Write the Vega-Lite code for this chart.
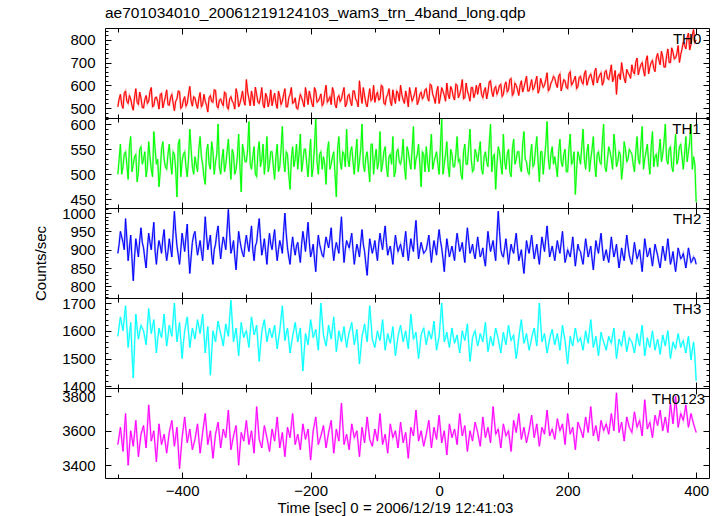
{
"$schema": "https://vega.github.io/schema/vega-lite/v6.json",
"padding": {"left": 33, "top": 5, "right": 5, "bottom": 5},
"background": "white",
"title": {"text": "ae701034010_20061219124103_wam3_trn_4band_long.qdp", "anchor": "start", "frame": "group", "font": "Liberation Sans", "fontSize": 15.5, "fontWeight": "normal", "color": "black", "offset": 5},
"spacing": 0,
"bounds": "flush",
"config": {
  "view": {"stroke": "black", "strokeWidth": 1},
  "axis": {"labelFont": "Liberation Sans", "labelFontSize": 15, "labelColor": "black", "titleFont": "Liberation Sans", "titleFontSize": 15, "titleFontWeight": "normal", "titleColor": "black", "domain": false, "grid": false, "tickColor": "black", "tickWidth": 1, "labelFlush": false, "labelOverlap": false, "format": "d"}
},
"data": {"values": [
{"t":-500,"th0":505,"th1":500,"th2":890,"th3":1580,"th0123":3520},
{"t":-498,"th0":540,"th1":530,"th2":915,"th3":1615,"th0123":3570},
{"t":-496,"th0":560,"th1":560,"th2":950,"th3":1650,"th0123":3620},
{"t":-494,"th0":515,"th1":500,"th2":935,"th3":1625,"th0123":3550},
{"t":-492,"th0":498,"th1":515,"th2":920,"th3":1600,"th0123":3480},
{"t":-490,"th0":565,"th1":540,"th2":900,"th3":1645,"th0123":3590},
{"t":-488,"th0":575,"th1":545,"th2":985,"th3":1690,"th0123":3700},
{"t":-486,"th0":530,"th1":520,"th2":930,"th3":1615,"th0123":3550},
{"t":-484,"th0":520,"th1":490,"th2":870,"th3":1540,"th0123":3400},
{"t":-482,"th0":555,"th1":555,"th2":905,"th3":1585,"th0123":3500},
{"t":-480,"th0":540,"th1":575,"th2":940,"th3":1630,"th0123":3600},
{"t":-478,"th0":510,"th1":505,"th2":875,"th3":1520,"th0123":3555},
{"t":-476,"th0":490,"th1":520,"th2":815,"th3":1430,"th0123":3510},
{"t":-474,"th0":548,"th1":535,"th2":880,"th3":1550,"th0123":3585},
{"t":-472,"th0":585,"th1":540,"th2":930,"th3":1660,"th0123":3660},
{"t":-470,"th0":525,"th1":485,"th2":905,"th3":1610,"th0123":3555},
{"t":-468,"th0":515,"th1":505,"th2":880,"th3":1570,"th0123":3450},
{"t":-466,"th0":570,"th1":550,"th2":925,"th3":1595,"th0123":3515},
{"t":-464,"th0":545,"th1":555,"th2":960,"th3":1620,"th0123":3580},
{"t":-462,"th0":502,"th1":520,"th2":920,"th3":1610,"th0123":3605},
{"t":-460,"th0":500,"th1":530,"th2":905,"th3":1600,"th0123":3630},
{"t":-458,"th0":538,"th1":545,"th2":875,"th3":1575,"th0123":3565},
{"t":-456,"th0":555,"th1":495,"th2":850,"th3":1550,"th0123":3500},
{"t":-454,"th0":520,"th1":515,"th2":905,"th3":1615,"th0123":3625},
{"t":-452,"th0":530,"th1":565,"th2":945,"th3":1680,"th0123":3750},
{"t":-450,"th0":572,"th1":535,"th2":920,"th3":1635,"th0123":3645},
{"t":-448,"th0":590,"th1":510,"th2":900,"th3":1590,"th0123":3540},
{"t":-446,"th0":505,"th1":495,"th2":940,"th3":1615,"th0123":3570},
{"t":-444,"th0":510,"th1":585,"th2":975,"th3":1640,"th0123":3600},
{"t":-442,"th0":545,"th1":550,"th2":895,"th3":1580,"th0123":3510},
{"t":-440,"th0":548,"th1":520,"th2":860,"th3":1520,"th0123":3420},
{"t":-438,"th0":528,"th1":530,"th2":900,"th3":1570,"th0123":3530},
{"t":-436,"th0":495,"th1":475,"th2":925,"th3":1610,"th0123":3640},
{"t":-434,"th0":560,"th1":505,"th2":910,"th3":1590,"th0123":3580},
{"t":-432,"th0":565,"th1":550,"th2":890,"th3":1575,"th0123":3520},
{"t":-430,"th0":500,"th1":565,"th2":930,"th3":1615,"th0123":3550},
{"t":-428,"th0":525,"th1":530,"th2":955,"th3":1660,"th0123":3580},
{"t":-426,"th0":550,"th1":515,"th2":900,"th3":1600,"th0123":3525},
{"t":-424,"th0":580,"th1":510,"th2":870,"th3":1545,"th0123":3470},
{"t":-422,"th0":515,"th1":540,"th2":895,"th3":1580,"th0123":3530},
{"t":-420,"th0":512,"th1":560,"th2":930,"th3":1620,"th0123":3590},
{"t":-418,"th0":545,"th1":525,"th2":905,"th3":1600,"th0123":3625},
{"t":-416,"th0":560,"th1":500,"th2":880,"th3":1580,"th0123":3660},
{"t":-414,"th0":522,"th1":545,"th2":945,"th3":1640,"th0123":3585},
{"t":-412,"th0":488,"th1":540,"th2":1005,"th3":1700,"th0123":3510},
{"t":-410,"th0":530,"th1":510,"th2":950,"th3":1625,"th0123":3565},
{"t":-408,"th0":540,"th1":455,"th2":910,"th3":1560,"th0123":3620},
{"t":-406,"th0":575,"th1":560,"th2":885,"th3":1595,"th0123":3500},
{"t":-404,"th0":572,"th1":570,"th2":860,"th3":1630,"th0123":3380},
{"t":-402,"th0":498,"th1":495,"th2":900,"th3":1565,"th0123":3470},
{"t":-400,"th0":505,"th1":525,"th2":945,"th3":1500,"th0123":3560},
{"t":-398,"th0":535,"th1":540,"th2":920,"th3":1555,"th0123":3620},
{"t":-396,"th0":550,"th1":545,"th2":895,"th3":1600,"th0123":3680},
{"t":-394,"th0":508,"th1":515,"th2":935,"th3":1625,"th0123":3605},
{"t":-392,"th0":520,"th1":495,"th2":970,"th3":1650,"th0123":3530},
{"t":-390,"th0":562,"th1":530,"th2":890,"th3":1595,"th0123":3570},
{"t":-388,"th0":595,"th1":590,"th2":835,"th3":1540,"th0123":3610},
{"t":-386,"th0":530,"th1":550,"th2":880,"th3":1575,"th0123":3550},
{"t":-384,"th0":508,"th1":515,"th2":920,"th3":1610,"th0123":3490},
{"t":-382,"th0":550,"th1":500,"th2":940,"th3":1590,"th0123":3520},
{"t":-380,"th0":545,"th1":535,"th2":950,"th3":1570,"th0123":3550},
{"t":-378,"th0":518,"th1":520,"th2":915,"th3":1605,"th0123":3595},
{"t":-376,"th0":498,"th1":505,"th2":885,"th3":1640,"th0123":3640},
{"t":-374,"th0":540,"th1":550,"th2":905,"th3":1615,"th0123":3555},
{"t":-372,"th0":568,"th1":575,"th2":925,"th3":1590,"th0123":3470},
{"t":-370,"th0":505,"th1":535,"th2":895,"th3":1625,"th0123":3530},
{"t":-368,"th0":515,"th1":520,"th2":870,"th3":1660,"th0123":3590},
{"t":-366,"th0":560,"th1":495,"th2":925,"th3":1590,"th0123":3645},
{"t":-364,"th0":530,"th1":480,"th2":990,"th3":1520,"th0123":3700},
{"t":-362,"th0":512,"th1":545,"th2":940,"th3":1570,"th0123":3610},
{"t":-360,"th0":482,"th1":560,"th2":900,"th3":1615,"th0123":3520},
{"t":-358,"th0":545,"th1":520,"th2":920,"th3":1530,"th0123":3560},
{"t":-356,"th0":555,"th1":510,"th2":940,"th3":1440,"th0123":3600},
{"t":-354,"th0":528,"th1":565,"th2":885,"th3":1520,"th0123":3520},
{"t":-352,"th0":525,"th1":545,"th2":860,"th3":1600,"th0123":3440},
{"t":-350,"th0":580,"th1":500,"th2":900,"th3":1580,"th0123":3510},
{"t":-348,"th0":578,"th1":525,"th2":915,"th3":1560,"th0123":3580},
{"t":-346,"th0":510,"th1":540,"th2":945,"th3":1600,"th0123":3615},
{"t":-344,"th0":500,"th1":600,"th2":965,"th3":1635,"th0123":3650},
{"t":-342,"th0":535,"th1":515,"th2":910,"th3":1610,"th0123":3575},
{"t":-340,"th0":540,"th1":500,"th2":875,"th3":1590,"th0123":3500},
{"t":-338,"th0":522,"th1":530,"th2":910,"th3":1570,"th0123":3555},
{"t":-336,"th0":510,"th1":550,"th2":935,"th3":1545,"th0123":3610},
{"t":-334,"th0":570,"th1":505,"th2":920,"th3":1585,"th0123":3585},
{"t":-332,"th0":565,"th1":520,"th2":900,"th3":1625,"th0123":3560},
{"t":-330,"th0":505,"th1":545,"th2":955,"th3":1600,"th0123":3640},
{"t":-328,"th0":495,"th1":570,"th2":1010,"th3":1580,"th0123":3720},
{"t":-326,"th0":540,"th1":525,"th2":945,"th3":1645,"th0123":3605},
{"t":-324,"th0":550,"th1":490,"th2":890,"th3":1710,"th0123":3490},
{"t":-322,"th0":530,"th1":550,"th2":905,"th3":1635,"th0123":3530},
{"t":-320,"th0":520,"th1":540,"th2":925,"th3":1560,"th0123":3570},
{"t":-318,"th0":495,"th1":500,"th2":880,"th3":1585,"th0123":3600},
{"t":-316,"th0":585,"th1":510,"th2":845,"th3":1610,"th0123":3630},
{"t":-314,"th0":560,"th1":535,"th2":900,"th3":1560,"th0123":3515},
{"t":-312,"th0":505,"th1":580,"th2":950,"th3":1510,"th0123":3400},
{"t":-310,"th0":520,"th1":515,"th2":925,"th3":1570,"th0123":3495},
{"t":-308,"th0":545,"th1":465,"th2":905,"th3":1630,"th0123":3590},
{"t":-306,"th0":575,"th1":560,"th2":890,"th3":1600,"th0123":3565},
{"t":-304,"th0":530,"th1":545,"th2":880,"th3":1575,"th0123":3540},
{"t":-302,"th0":512,"th1":525,"th2":915,"th3":1590,"th0123":3600},
{"t":-300,"th0":625,"th1":525,"th2":940,"th3":1600,"th0123":3660},
{"t":-298,"th0":570,"th1":550,"th2":915,"th3":1570,"th0123":3590},
{"t":-296,"th0":540,"th1":605,"th2":895,"th3":1540,"th0123":3520},
{"t":-294,"th0":510,"th1":520,"th2":930,"th3":1595,"th0123":3560},
{"t":-292,"th0":575,"th1":510,"th2":965,"th3":1650,"th0123":3600},
{"t":-290,"th0":545,"th1":535,"th2":900,"th3":1620,"th0123":3535},
{"t":-288,"th0":510,"th1":555,"th2":870,"th3":1585,"th0123":3470},
{"t":-286,"th0":592,"th1":500,"th2":910,"th3":1600,"th0123":3605},
{"t":-284,"th0":560,"th1":495,"th2":920,"th3":1620,"th0123":3740},
{"t":-282,"th0":525,"th1":545,"th2":955,"th3":1555,"th0123":3645},
{"t":-280,"th0":520,"th1":565,"th2":985,"th3":1490,"th0123":3550},
{"t":-278,"th0":548,"th1":515,"th2":930,"th3":1545,"th0123":3525},
{"t":-276,"th0":590,"th1":530,"th2":885,"th3":1595,"th0123":3500},
{"t":-274,"th0":515,"th1":560,"th2":905,"th3":1620,"th0123":3565},
{"t":-272,"th0":500,"th1":500,"th2":930,"th3":1640,"th0123":3630},
{"t":-270,"th0":565,"th1":530,"th2":895,"th3":1600,"th0123":3595},
{"t":-268,"th0":548,"th1":575,"th2":860,"th3":1560,"th0123":3560},
{"t":-266,"th0":505,"th1":505,"th2":910,"th3":1585,"th0123":3520},
{"t":-264,"th0":530,"th1":520,"th2":945,"th3":1610,"th0123":3480},
{"t":-262,"th0":580,"th1":545,"th2":915,"th3":1590,"th0123":3545},
{"t":-260,"th0":510,"th1":545,"th2":900,"th3":1575,"th0123":3610},
{"t":-258,"th0":540,"th1":515,"th2":930,"th3":1600,"th0123":3575},
{"t":-256,"th0":565,"th1":490,"th2":955,"th3":1620,"th0123":3540},
{"t":-254,"th0":520,"th1":535,"th2":905,"th3":1575,"th0123":3610},
{"t":-252,"th0":498,"th1":560,"th2":870,"th3":1535,"th0123":3680},
{"t":-250,"th0":575,"th1":505,"th2":900,"th3":1570,"th0123":3590},
{"t":-248,"th0":550,"th1":515,"th2":925,"th3":1600,"th0123":3500},
{"t":-246,"th0":515,"th1":550,"th2":910,"th3":1645,"th0123":3545},
{"t":-244,"th0":530,"th1":595,"th2":890,"th3":1690,"th0123":3590},
{"t":-242,"th0":560,"th1":525,"th2":950,"th3":1625,"th0123":3520},
{"t":-240,"th0":585,"th1":505,"th2":1000,"th3":1565,"th0123":3450},
{"t":-238,"th0":505,"th1":545,"th2":945,"th3":1590,"th0123":3535},
{"t":-236,"th0":505,"th1":540,"th2":905,"th3":1610,"th0123":3620},
{"t":-234,"th0":545,"th1":500,"th2":880,"th3":1565,"th0123":3590},
{"t":-232,"th0":560,"th1":470,"th2":860,"th3":1520,"th0123":3560},
{"t":-230,"th0":590,"th1":530,"th2":905,"th3":1550,"th0123":3630},
{"t":-228,"th0":520,"th1":555,"th2":935,"th3":1580,"th0123":3700},
{"t":-226,"th0":525,"th1":515,"th2":905,"th3":1605,"th0123":3610},
{"t":-224,"th0":545,"th1":530,"th2":885,"th3":1630,"th0123":3520},
{"t":-222,"th0":500,"th1":560,"th2":910,"th3":1595,"th0123":3550},
{"t":-220,"th0":495,"th1":510,"th2":920,"th3":1560,"th0123":3580},
{"t":-218,"th0":530,"th1":540,"th2":890,"th3":1585,"th0123":3535},
{"t":-216,"th0":560,"th1":580,"th2":865,"th3":1610,"th0123":3490},
{"t":-214,"th0":545,"th1":505,"th2":915,"th3":1530,"th0123":3565},
{"t":-212,"th0":525,"th1":525,"th2":950,"th3":1455,"th0123":3640},
{"t":-210,"th0":505,"th1":550,"th2":925,"th3":1525,"th0123":3595},
{"t":-208,"th0":590,"th1":550,"th2":895,"th3":1590,"th0123":3550},
{"t":-206,"th0":555,"th1":520,"th2":935,"th3":1570,"th0123":3580},
{"t":-204,"th0":515,"th1":495,"th2":975,"th3":1550,"th0123":3610},
{"t":-202,"th0":575,"th1":535,"th2":920,"th3":1595,"th0123":3520},
{"t":-200,"th0":548,"th1":570,"th2":880,"th3":1640,"th0123":3430},
{"t":-198,"th0":520,"th1":495,"th2":895,"th3":1610,"th0123":3515},
{"t":-196,"th0":505,"th1":515,"th2":915,"th3":1575,"th0123":3600},
{"t":-194,"th0":590,"th1":555,"th2":875,"th3":1590,"th0123":3640},
{"t":-192,"th0":575,"th1":610,"th2":840,"th3":1605,"th0123":3680},
{"t":-190,"th0":525,"th1":525,"th2":900,"th3":1565,"th0123":3600},
{"t":-188,"th0":530,"th1":500,"th2":940,"th3":1530,"th0123":3520},
{"t":-186,"th0":545,"th1":540,"th2":915,"th3":1615,"th0123":3545},
{"t":-184,"th0":562,"th1":545,"th2":900,"th3":1700,"th0123":3570},
{"t":-182,"th0":510,"th1":510,"th2":885,"th3":1640,"th0123":3600},
{"t":-180,"th0":520,"th1":535,"th2":880,"th3":1585,"th0123":3630},
{"t":-178,"th0":565,"th1":520,"th2":910,"th3":1565,"th0123":3565},
{"t":-176,"th0":600,"th1":480,"th2":935,"th3":1545,"th0123":3500},
{"t":-174,"th0":525,"th1":545,"th2":920,"th3":1580,"th0123":3545},
{"t":-172,"th0":535,"th1":565,"th2":905,"th3":1620,"th0123":3590},
{"t":-170,"th0":550,"th1":510,"th2":930,"th3":1595,"th0123":3625},
{"t":-168,"th0":515,"th1":520,"th2":960,"th3":1570,"th0123":3660},
{"t":-166,"th0":590,"th1":535,"th2":905,"th3":1610,"th0123":3565},
{"t":-164,"th0":570,"th1":545,"th2":870,"th3":1650,"th0123":3470},
{"t":-162,"th0":515,"th1":500,"th2":900,"th3":1590,"th0123":3540},
{"t":-160,"th0":500,"th1":455,"th2":920,"th3":1525,"th0123":3610},
{"t":-158,"th0":545,"th1":550,"th2":905,"th3":1560,"th0123":3575},
{"t":-156,"th0":555,"th1":575,"th2":890,"th3":1600,"th0123":3540},
{"t":-154,"th0":528,"th1":525,"th2":945,"th3":1580,"th0123":3650},
{"t":-152,"th0":540,"th1":510,"th2":990,"th3":1560,"th0123":3760},
{"t":-150,"th0":568,"th1":545,"th2":920,"th3":1590,"th0123":3640},
{"t":-148,"th0":590,"th1":540,"th2":865,"th3":1615,"th0123":3520},
{"t":-146,"th0":505,"th1":515,"th2":900,"th3":1575,"th0123":3550},
{"t":-144,"th0":518,"th1":590,"th2":925,"th3":1540,"th0123":3580},
{"t":-142,"th0":555,"th1":530,"th2":915,"th3":1570,"th0123":3535},
{"t":-140,"th0":560,"th1":515,"th2":905,"th3":1595,"th0123":3490},
{"t":-138,"th0":528,"th1":545,"th2":925,"th3":1610,"th0123":3565},
{"t":-136,"th0":510,"th1":555,"th2":945,"th3":1630,"th0123":3640},
{"t":-134,"th0":575,"th1":525,"th2":900,"th3":1590,"th0123":3600},
{"t":-132,"th0":575,"th1":500,"th2":860,"th3":1550,"th0123":3560},
{"t":-130,"th0":540,"th1":540,"th2":890,"th3":1575,"th0123":3580},
{"t":-128,"th0":530,"th1":570,"th2":915,"th3":1605,"th0123":3600},
{"t":-126,"th0":505,"th1":505,"th2":900,"th3":1545,"th0123":3525},
{"t":-124,"th0":620,"th1":525,"th2":880,"th3":1480,"th0123":3450},
{"t":-122,"th0":560,"th1":550,"th2":920,"th3":1530,"th0123":3535},
{"t":-120,"th0":520,"th1":600,"th2":955,"th3":1580,"th0123":3620},
{"t":-118,"th0":590,"th1":520,"th2":915,"th3":1600,"th0123":3575},
{"t":-116,"th0":555,"th1":505,"th2":895,"th3":1625,"th0123":3530},
{"t":-114,"th0":520,"th1":535,"th2":860,"th3":1590,"th0123":3605},
{"t":-112,"th0":505,"th1":545,"th2":830,"th3":1560,"th0123":3680},
{"t":-110,"th0":548,"th1":515,"th2":885,"th3":1625,"th0123":3615},
{"t":-108,"th0":585,"th1":485,"th2":930,"th3":1690,"th0123":3550},
{"t":-106,"th0":532,"th1":560,"th2":910,"th3":1630,"th0123":3530},
{"t":-104,"th0":540,"th1":560,"th2":890,"th3":1570,"th0123":3510},
{"t":-102,"th0":600,"th1":500,"th2":905,"th3":1555,"th0123":3560},
{"t":-100,"th0":525,"th1":530,"th2":925,"th3":1540,"th0123":3610},
{"t":-98,"th0":555,"th1":550,"th2":895,"th3":1570,"th0123":3575},
{"t":-96,"th0":570,"th1":510,"th2":870,"th3":1600,"th0123":3540},
{"t":-94,"th0":535,"th1":525,"th2":915,"th3":1580,"th0123":3620},
{"t":-92,"th0":540,"th1":585,"th2":945,"th3":1565,"th0123":3700},
{"t":-90,"th0":600,"th1":505,"th2":920,"th3":1600,"th0123":3610},
{"t":-88,"th0":595,"th1":520,"th2":900,"th3":1640,"th0123":3520},
{"t":-86,"th0":522,"th1":545,"th2":935,"th3":1585,"th0123":3550},
{"t":-84,"th0":515,"th1":555,"th2":965,"th3":1530,"th0123":3580},
{"t":-82,"th0":548,"th1":515,"th2":920,"th3":1560,"th0123":3525},
{"t":-80,"th0":560,"th1":495,"th2":885,"th3":1590,"th0123":3470},
{"t":-78,"th0":585,"th1":535,"th2":900,"th3":1570,"th0123":3555},
{"t":-76,"th0":530,"th1":540,"th2":910,"th3":1555,"th0123":3640},
{"t":-74,"th0":510,"th1":520,"th2":885,"th3":1585,"th0123":3600},
{"t":-72,"th0":580,"th1":575,"th2":860,"th3":1615,"th0123":3560},
{"t":-70,"th0":545,"th1":495,"th2":905,"th3":1560,"th0123":3580},
{"t":-68,"th0":520,"th1":505,"th2":940,"th3":1510,"th0123":3600},
{"t":-66,"th0":575,"th1":545,"th2":915,"th3":1545,"th0123":3550},
{"t":-64,"th0":565,"th1":550,"th2":895,"th3":1580,"th0123":3500},
{"t":-62,"th0":530,"th1":525,"th2":905,"th3":1600,"th0123":3575},
{"t":-60,"th0":600,"th1":520,"th2":915,"th3":1620,"th0123":3650},
{"t":-58,"th0":560,"th1":535,"th2":895,"th3":1590,"th0123":3590},
{"t":-56,"th0":535,"th1":570,"th2":880,"th3":1560,"th0123":3530},
{"t":-54,"th0":520,"th1":515,"th2":920,"th3":1580,"th0123":3560},
{"t":-52,"th0":575,"th1":490,"th2":950,"th3":1600,"th0123":3590},
{"t":-50,"th0":545,"th1":555,"th2":905,"th3":1565,"th0123":3515},
{"t":-48,"th0":505,"th1":545,"th2":870,"th3":1535,"th0123":3440},
{"t":-46,"th0":590,"th1":525,"th2":900,"th3":1600,"th0123":3530},
{"t":-44,"th0":560,"th1":510,"th2":930,"th3":1660,"th0123":3620},
{"t":-42,"th0":530,"th1":550,"th2":910,"th3":1615,"th0123":3595},
{"t":-40,"th0":545,"th1":595,"th2":895,"th3":1570,"th0123":3570},
{"t":-38,"th0":565,"th1":510,"th2":945,"th3":1580,"th0123":3645},
{"t":-36,"th0":590,"th1":530,"th2":980,"th3":1595,"th0123":3720},
{"t":-34,"th0":515,"th1":540,"th2":920,"th3":1545,"th0123":3630},
{"t":-32,"th0":530,"th1":560,"th2":875,"th3":1500,"th0123":3540},
{"t":-30,"th0":560,"th1":520,"th2":900,"th3":1540,"th0123":3570},
{"t":-28,"th0":570,"th1":475,"th2":920,"th3":1585,"th0123":3600},
{"t":-26,"th0":540,"th1":545,"th2":905,"th3":1600,"th0123":3555},
{"t":-24,"th0":550,"th1":540,"th2":890,"th3":1610,"th0123":3510},
{"t":-22,"th0":580,"th1":505,"th2":895,"th3":1580,"th0123":3545},
{"t":-20,"th0":585,"th1":555,"th2":900,"th3":1550,"th0123":3580},
{"t":-18,"th0":545,"th1":525,"th2":920,"th3":1575,"th0123":3620},
{"t":-16,"th0":530,"th1":505,"th2":940,"th3":1600,"th0123":3660},
{"t":-14,"th0":605,"th1":545,"th2":900,"th3":1585,"th0123":3580},
{"t":-12,"th0":600,"th1":580,"th2":865,"th3":1570,"th0123":3500},
{"t":-10,"th0":560,"th1":510,"th2":900,"th3":1600,"th0123":3560},
{"t":-8,"th0":545,"th1":525,"th2":925,"th3":1635,"th0123":3620},
{"t":-6,"th0":520,"th1":535,"th2":905,"th3":1580,"th0123":3585},
{"t":-4,"th0":570,"th1":545,"th2":885,"th3":1530,"th0123":3550},
{"t":-2,"th0":595,"th1":520,"th2":925,"th3":1555,"th0123":3620},
{"t":0,"th0":520,"th1":500,"th2":955,"th3":1580,"th0123":3690},
{"t":2,"th0":548,"th1":555,"th2":925,"th3":1640,"th0123":3610},
{"t":4,"th0":590,"th1":610,"th2":905,"th3":1700,"th0123":3530},
{"t":6,"th0":575,"th1":500,"th2":875,"th3":1630,"th0123":3565},
{"t":8,"th0":555,"th1":520,"th2":840,"th3":1560,"th0123":3600},
{"t":10,"th0":530,"th1":540,"th2":890,"th3":1575,"th0123":3530},
{"t":12,"th0":610,"th1":565,"th2":930,"th3":1595,"th0123":3460},
{"t":14,"th0":560,"th1":515,"th2":905,"th3":1565,"th0123":3550},
{"t":16,"th0":540,"th1":495,"th2":880,"th3":1540,"th0123":3640},
{"t":18,"th0":595,"th1":550,"th2":895,"th3":1575,"th0123":3600},
{"t":20,"th0":580,"th1":540,"th2":910,"th3":1610,"th0123":3560},
{"t":22,"th0":550,"th1":515,"th2":890,"th3":1580,"th0123":3585},
{"t":24,"th0":535,"th1":515,"th2":870,"th3":1555,"th0123":3610},
{"t":26,"th0":605,"th1":540,"th2":915,"th3":1570,"th0123":3565},
{"t":28,"th0":600,"th1":575,"th2":945,"th3":1585,"th0123":3520},
{"t":30,"th0":545,"th1":525,"th2":920,"th3":1550,"th0123":3610},
{"t":32,"th0":560,"th1":530,"th2":895,"th3":1520,"th0123":3700},
{"t":34,"th0":585,"th1":500,"th2":905,"th3":1560,"th0123":3635},
{"t":36,"th0":625,"th1":490,"th2":920,"th3":1600,"th0123":3570},
{"t":38,"th0":540,"th1":545,"th2":890,"th3":1580,"th0123":3600},
{"t":40,"th0":545,"th1":560,"th2":865,"th3":1565,"th0123":3630},
{"t":42,"th0":610,"th1":520,"th2":920,"th3":1595,"th0123":3555},
{"t":44,"th0":575,"th1":520,"th2":960,"th3":1625,"th0123":3480},
{"t":46,"th0":555,"th1":555,"th2":925,"th3":1555,"th0123":3540},
{"t":48,"th0":530,"th1":590,"th2":890,"th3":1490,"th0123":3600},
{"t":50,"th0":590,"th1":530,"th2":900,"th3":1530,"th0123":3570},
{"t":52,"th0":590,"th1":505,"th2":915,"th3":1575,"th0123":3540},
{"t":54,"th0":545,"th1":510,"th2":890,"th3":1590,"th0123":3595},
{"t":56,"th0":565,"th1":550,"th2":875,"th3":1600,"th0123":3650},
{"t":58,"th0":600,"th1":540,"th2":905,"th3":1570,"th0123":3620},
{"t":60,"th0":560,"th1":525,"th2":935,"th3":1545,"th0123":3590},
{"t":62,"th0":595,"th1":545,"th2":905,"th3":1565,"th0123":3550},
{"t":64,"th0":610,"th1":565,"th2":880,"th3":1590,"th0123":3510},
{"t":66,"th0":560,"th1":510,"th2":890,"th3":1575,"th0123":3595},
{"t":68,"th0":545,"th1":500,"th2":905,"th3":1560,"th0123":3680},
{"t":70,"th0":575,"th1":535,"th2":875,"th3":1595,"th0123":3620},
{"t":72,"th0":590,"th1":545,"th2":855,"th3":1630,"th0123":3560},
{"t":74,"th0":540,"th1":525,"th2":905,"th3":1575,"th0123":3590},
{"t":76,"th0":570,"th1":515,"th2":950,"th3":1525,"th0123":3620},
{"t":78,"th0":615,"th1":560,"th2":920,"th3":1550,"th0123":3575},
{"t":80,"th0":620,"th1":600,"th2":895,"th3":1580,"th0123":3530},
{"t":82,"th0":570,"th1":505,"th2":910,"th3":1560,"th0123":3635},
{"t":84,"th0":550,"th1":535,"th2":925,"th3":1545,"th0123":3740},
{"t":86,"th0":585,"th1":540,"th2":895,"th3":1580,"th0123":3660},
{"t":88,"th0":595,"th1":470,"th2":870,"th3":1610,"th0123":3580},
{"t":90,"th0":560,"th1":520,"th2":940,"th3":1590,"th0123":3595},
{"t":92,"th0":575,"th1":555,"th2":1005,"th3":1570,"th0123":3610},
{"t":94,"th0":600,"th1":545,"th2":950,"th3":1545,"th0123":3555},
{"t":96,"th0":605,"th1":520,"th2":900,"th3":1520,"th0123":3500},
{"t":98,"th0":550,"th1":500,"th2":885,"th3":1560,"th0123":3570},
{"t":100,"th0":560,"th1":580,"th2":880,"th3":1595,"th0123":3640},
{"t":102,"th0":600,"th1":525,"th2":905,"th3":1570,"th0123":3605},
{"t":104,"th0":615,"th1":510,"th2":930,"th3":1550,"th0123":3570},
{"t":106,"th0":570,"th1":540,"th2":895,"th3":1585,"th0123":3585},
{"t":108,"th0":580,"th1":550,"th2":860,"th3":1620,"th0123":3600},
{"t":110,"th0":625,"th1":505,"th2":890,"th3":1590,"th0123":3540},
{"t":112,"th0":630,"th1":495,"th2":915,"th3":1565,"th0123":3480},
{"t":114,"th0":555,"th1":550,"th2":900,"th3":1575,"th0123":3570},
{"t":116,"th0":565,"th1":570,"th2":890,"th3":1585,"th0123":3660},
{"t":118,"th0":610,"th1":520,"th2":920,"th3":1540,"th0123":3625},
{"t":120,"th0":600,"th1":530,"th2":945,"th3":1500,"th0123":3590},
{"t":122,"th0":580,"th1":545,"th2":905,"th3":1535,"th0123":3645},
{"t":124,"th0":555,"th1":545,"th2":870,"th3":1575,"th0123":3700},
{"t":126,"th0":600,"th1":515,"th2":885,"th3":1610,"th0123":3625},
{"t":128,"th0":620,"th1":505,"th2":900,"th3":1640,"th0123":3550},
{"t":130,"th0":570,"th1":560,"th2":865,"th3":1595,"th0123":3585},
{"t":132,"th0":590,"th1":585,"th2":835,"th3":1555,"th0123":3620},
{"t":134,"th0":615,"th1":530,"th2":880,"th3":1570,"th0123":3575},
{"t":136,"th0":640,"th1":525,"th2":925,"th3":1590,"th0123":3530},
{"t":138,"th0":575,"th1":505,"th2":905,"th3":1560,"th0123":3565},
{"t":140,"th0":575,"th1":500,"th2":890,"th3":1530,"th0123":3600},
{"t":142,"th0":600,"th1":535,"th2":915,"th3":1550,"th0123":3645},
{"t":144,"th0":625,"th1":560,"th2":940,"th3":1575,"th0123":3690},
{"t":146,"th0":580,"th1":515,"th2":905,"th3":1595,"th0123":3625},
{"t":148,"th0":590,"th1":520,"th2":875,"th3":1610,"th0123":3560},
{"t":150,"th0":615,"th1":550,"th2":895,"th3":1575,"th0123":3600},
{"t":152,"th0":640,"th1":575,"th2":915,"th3":1545,"th0123":3640},
{"t":154,"th0":565,"th1":525,"th2":885,"th3":1620,"th0123":3575},
{"t":156,"th0":580,"th1":485,"th2":860,"th3":1700,"th0123":3510},
{"t":158,"th0":630,"th1":545,"th2":900,"th3":1630,"th0123":3565},
{"t":160,"th0":610,"th1":545,"th2":935,"th3":1560,"th0123":3620},
{"t":162,"th0":590,"th1":500,"th2":915,"th3":1575,"th0123":3600},
{"t":164,"th0":600,"th1":530,"th2":895,"th3":1590,"th0123":3580},
{"t":166,"th0":625,"th1":560,"th2":930,"th3":1555,"th0123":3650},
{"t":168,"th0":655,"th1":605,"th2":965,"th3":1520,"th0123":3720},
{"t":170,"th0":575,"th1":530,"th2":920,"th3":1545,"th0123":3645},
{"t":172,"th0":585,"th1":510,"th2":880,"th3":1570,"th0123":3570},
{"t":174,"th0":610,"th1":540,"th2":895,"th3":1590,"th0123":3590},
{"t":176,"th0":620,"th1":555,"th2":910,"th3":1605,"th0123":3610},
{"t":178,"th0":640,"th1":520,"th2":890,"th3":1575,"th0123":3580},
{"t":180,"th0":630,"th1":535,"th2":870,"th3":1550,"th0123":3550},
{"t":182,"th0":605,"th1":515,"th2":900,"th3":1570,"th0123":3610},
{"t":184,"th0":590,"th1":495,"th2":925,"th3":1590,"th0123":3670},
{"t":186,"th0":640,"th1":545,"th2":905,"th3":1560,"th0123":3635},
{"t":188,"th0":650,"th1":570,"th2":890,"th3":1530,"th0123":3600},
{"t":190,"th0":575,"th1":525,"th2":920,"th3":1575,"th0123":3620},
{"t":192,"th0":600,"th1":515,"th2":950,"th3":1620,"th0123":3640},
{"t":194,"th0":625,"th1":540,"th2":905,"th3":1590,"th0123":3580},
{"t":196,"th0":620,"th1":550,"th2":865,"th3":1565,"th0123":3520},
{"t":198,"th0":590,"th1":505,"th2":880,"th3":1520,"th0123":3610},
{"t":200,"th0":585,"th1":505,"th2":900,"th3":1480,"th0123":3700},
{"t":202,"th0":650,"th1":550,"th2":890,"th3":1530,"th0123":3640},
{"t":204,"th0":660,"th1":580,"th2":880,"th3":1580,"th0123":3580},
{"t":206,"th0":600,"th1":520,"th2":905,"th3":1560,"th0123":3600},
{"t":208,"th0":610,"th1":525,"th2":935,"th3":1545,"th0123":3620},
{"t":210,"th0":625,"th1":545,"th2":895,"th3":1580,"th0123":3555},
{"t":212,"th0":640,"th1":460,"th2":855,"th3":1610,"th0123":3490},
{"t":214,"th0":585,"th1":510,"th2":885,"th3":1585,"th0123":3570},
{"t":216,"th0":595,"th1":545,"th2":915,"th3":1560,"th0123":3650},
{"t":218,"th0":635,"th1":535,"th2":900,"th3":1565,"th0123":3630},
{"t":220,"th0":640,"th1":520,"th2":895,"th3":1575,"th0123":3610},
{"t":222,"th0":615,"th1":555,"th2":875,"th3":1550,"th0123":3585},
{"t":224,"th0":605,"th1":590,"th2":860,"th3":1530,"th0123":3560},
{"t":226,"th0":650,"th1":530,"th2":895,"th3":1565,"th0123":3620},
{"t":228,"th0":665,"th1":510,"th2":930,"th3":1600,"th0123":3680},
{"t":230,"th0":600,"th1":545,"th2":905,"th3":1575,"th0123":3635},
{"t":232,"th0":620,"th1":560,"th2":880,"th3":1555,"th0123":3590},
{"t":234,"th0":640,"th1":505,"th2":895,"th3":1600,"th0123":3665},
{"t":236,"th0":650,"th1":530,"th2":910,"th3":1640,"th0123":3740},
{"t":238,"th0":625,"th1":550,"th2":875,"th3":1590,"th0123":3655},
{"t":240,"th0":600,"th1":575,"th2":845,"th3":1540,"th0123":3570},
{"t":242,"th0":660,"th1":520,"th2":885,"th3":1560,"th0123":3600},
{"t":244,"th0":675,"th1":495,"th2":925,"th3":1580,"th0123":3630},
{"t":246,"th0":610,"th1":540,"th2":905,"th3":1545,"th0123":3585},
{"t":248,"th0":630,"th1":545,"th2":890,"th3":1510,"th0123":3540},
{"t":250,"th0":645,"th1":525,"th2":920,"th3":1550,"th0123":3600},
{"t":252,"th0":655,"th1":520,"th2":945,"th3":1595,"th0123":3660},
{"t":254,"th0":600,"th1":565,"th2":905,"th3":1575,"th0123":3630},
{"t":256,"th0":615,"th1":600,"th2":870,"th3":1560,"th0123":3600},
{"t":258,"th0":660,"th1":515,"th2":885,"th3":1545,"th0123":3620},
{"t":260,"th0":665,"th1":505,"th2":900,"th3":1530,"th0123":3640},
{"t":262,"th0":630,"th1":530,"th2":880,"th3":1555,"th0123":3610},
{"t":264,"th0":625,"th1":555,"th2":865,"th3":1580,"th0123":3580},
{"t":266,"th0":655,"th1":545,"th2":900,"th3":1565,"th0123":3640},
{"t":268,"th0":690,"th1":530,"th2":935,"th3":1555,"th0123":3700},
{"t":270,"th0":615,"th1":510,"th2":905,"th3":1585,"th0123":3650},
{"t":272,"th0":635,"th1":580,"th2":880,"th3":1610,"th0123":3600},
{"t":274,"th0":665,"th1":555,"th2":895,"th3":1555,"th0123":3710},
{"t":276,"th0":560,"th1":515,"th2":915,"th3":1500,"th0123":3820},
{"t":278,"th0":640,"th1":525,"th2":880,"th3":1535,"th0123":3705},
{"t":280,"th0":650,"th1":545,"th2":850,"th3":1570,"th0123":3590},
{"t":282,"th0":625,"th1":540,"th2":875,"th3":1555,"th0123":3620},
{"t":284,"th0":700,"th1":490,"th2":905,"th3":1545,"th0123":3650},
{"t":286,"th0":660,"th1":515,"th2":885,"th3":1575,"th0123":3595},
{"t":288,"th0":630,"th1":565,"th2":870,"th3":1600,"th0123":3540},
{"t":290,"th0":610,"th1":550,"th2":905,"th3":1560,"th0123":3610},
{"t":292,"th0":670,"th1":525,"th2":940,"th3":1525,"th0123":3680},
{"t":294,"th0":655,"th1":530,"th2":910,"th3":1550,"th0123":3650},
{"t":296,"th0":645,"th1":550,"th2":885,"th3":1575,"th0123":3620},
{"t":298,"th0":630,"th1":545,"th2":870,"th3":1565,"th0123":3605},
{"t":300,"th0":690,"th1":540,"th2":860,"th3":1560,"th0123":3590},
{"t":302,"th0":660,"th1":520,"th2":890,"th3":1540,"th0123":3650},
{"t":304,"th0":650,"th1":505,"th2":920,"th3":1520,"th0123":3710},
{"t":306,"th0":700,"th1":545,"th2":895,"th3":1555,"th0123":3665},
{"t":308,"th0":720,"th1":575,"th2":875,"th3":1590,"th0123":3620},
{"t":310,"th0":645,"th1":530,"th2":885,"th3":1565,"th0123":3640},
{"t":312,"th0":670,"th1":520,"th2":900,"th3":1545,"th0123":3660},
{"t":314,"th0":690,"th1":560,"th2":870,"th3":1585,"th0123":3615},
{"t":316,"th0":700,"th1":595,"th2":840,"th3":1620,"th0123":3570},
{"t":318,"th0":665,"th1":510,"th2":885,"th3":1565,"th0123":3675},
{"t":320,"th0":640,"th1":530,"th2":930,"th3":1510,"th0123":3780},
{"t":322,"th0":710,"th1":545,"th2":905,"th3":1540,"th0123":3695},
{"t":324,"th0":730,"th1":560,"th2":880,"th3":1575,"th0123":3610},
{"t":326,"th0":650,"th1":525,"th2":890,"th3":1555,"th0123":3630},
{"t":328,"th0":680,"th1":500,"th2":905,"th3":1540,"th0123":3650},
{"t":330,"th0":700,"th1":555,"th2":880,"th3":1570,"th0123":3605},
{"t":332,"th0":710,"th1":585,"th2":855,"th3":1600,"th0123":3560},
{"t":334,"th0":675,"th1":515,"th2":885,"th3":1565,"th0123":3625},
{"t":336,"th0":660,"th1":535,"th2":915,"th3":1530,"th0123":3690},
{"t":338,"th0":720,"th1":540,"th2":900,"th3":1550,"th0123":3660},
{"t":340,"th0":740,"th1":515,"th2":885,"th3":1570,"th0123":3630},
{"t":342,"th0":710,"th1":545,"th2":865,"th3":1545,"th0123":3675},
{"t":344,"th0":690,"th1":570,"th2":850,"th3":1515,"th0123":3720},
{"t":346,"th0":750,"th1":525,"th2":880,"th3":1550,"th0123":3660},
{"t":348,"th0":725,"th1":540,"th2":910,"th3":1585,"th0123":3600},
{"t":350,"th0":680,"th1":565,"th2":890,"th3":1565,"th0123":3640},
{"t":352,"th0":680,"th1":600,"th2":870,"th3":1545,"th0123":3680},
{"t":354,"th0":730,"th1":530,"th2":900,"th3":1575,"th0123":3635},
{"t":356,"th0":760,"th1":520,"th2":930,"th3":1600,"th0123":3590},
{"t":358,"th0":700,"th1":550,"th2":895,"th3":1550,"th0123":3675},
{"t":360,"th0":700,"th1":555,"th2":860,"th3":1500,"th0123":3760},
{"t":362,"th0":765,"th1":515,"th2":875,"th3":1530,"th0123":3700},
{"t":364,"th0":745,"th1":505,"th2":895,"th3":1560,"th0123":3640},
{"t":366,"th0":715,"th1":545,"th2":865,"th3":1545,"th0123":3720},
{"t":368,"th0":720,"th1":580,"th2":840,"th3":1535,"th0123":3800},
{"t":370,"th0":740,"th1":520,"th2":870,"th3":1565,"th0123":3710},
{"t":372,"th0":775,"th1":530,"th2":905,"th3":1590,"th0123":3620},
{"t":374,"th0":700,"th1":555,"th2":890,"th3":1565,"th0123":3660},
{"t":376,"th0":735,"th1":560,"th2":875,"th3":1540,"th0123":3700},
{"t":378,"th0":760,"th1":535,"th2":880,"th3":1555,"th0123":3680},
{"t":380,"th0":790,"th1":510,"th2":890,"th3":1565,"th0123":3660},
{"t":382,"th0":775,"th1":540,"th2":870,"th3":1540,"th0123":3705},
{"t":384,"th0":760,"th1":575,"th2":850,"th3":1520,"th0123":3750},
{"t":386,"th0":810,"th1":525,"th2":875,"th3":1550,"th0123":3685},
{"t":388,"th0":830,"th1":545,"th2":905,"th3":1580,"th0123":3620},
{"t":390,"th0":755,"th1":565,"th2":885,"th3":1540,"th0123":3660},
{"t":392,"th0":780,"th1":600,"th2":865,"th3":1495,"th0123":3700},
{"t":394,"th0":820,"th1":510,"th2":870,"th3":1530,"th0123":3670},
{"t":396,"th0":845,"th1":535,"th2":880,"th3":1560,"th0123":3640},
{"t":398,"th0":790,"th1":520,"th2":875,"th3":1510,"th0123":3615},
{"t":400,"th0":800,"th1":445,"th2":860,"th3":1420,"th0123":3590}
]},
"vconcat": [
{
 "width": 604, "height": 90,
 "layer": [
  {"mark": {"type": "line", "color": "#ff0000", "strokeWidth": 2, "opacity": 0.35, "clip": true},
   "encoding": {
    "x": {"field": "t", "type": "quantitative", "scale": {"domain": [-520, 420], "nice": false, "zero": false}, "axis": {"orient": "bottom", "values": [-400, -200, 0, 200, 400], "tickSize": -6, "labels": false, "title": null}},
    "y": {"field": "th0", "type": "quantitative", "scale": {"domain": [456, 852], "nice": false, "zero": false}, "axis": {"orient": "left", "values": [500, 600, 700, 800], "tickSize": -6, "labelPadding": 16, "title": null}}}},
  {"mark": {"type": "line", "color": "#ff0000", "strokeWidth": 1, "clip": true},
   "encoding": {
    "x": {"field": "t", "type": "quantitative", "axis": {"orient": "top", "values": [-400, -200, 0, 200, 400], "tickSize": -6, "labels": false, "title": null}},
    "y": {"field": "th0", "type": "quantitative", "axis": {"orient": "right", "values": [500, 600, 700, 800], "tickSize": -6, "labels": false, "title": null}}}},
  {"mark": {"type": "point", "opacity": 0},
   "encoding": {
    "x": {"field": "t", "type": "quantitative", "axis": {"orient": "bottom", "values": [-500, -300, -100, 100, 300], "tickSize": -4, "labels": false, "title": null}},
    "y": {"field": "th0", "type": "quantitative", "axis": {"orient": "left", "values": [460, 480, 520, 540, 560, 580, 620, 640, 660, 680, 720, 740, 760, 780, 820, 840], "tickSize": -3, "labels": false, "title": null}}}},
  {"mark": {"type": "point", "opacity": 0},
   "encoding": {
    "x": {"field": "t", "type": "quantitative", "axis": {"orient": "top", "values": [-500, -300, -100, 100, 300], "tickSize": -4, "labels": false, "title": null}},
    "y": {"field": "th0", "type": "quantitative", "axis": {"orient": "right", "values": [460, 480, 520, 540, 560, 580, 620, 640, 660, 680, 720, 740, 760, 780, 820, 840], "tickSize": -3, "labels": false, "title": null}}}},
  {"data": {"values": [{"label": "TH0"}]},
   "mark": {"type": "text", "align": "right", "baseline": "middle", "font": "Liberation Sans", "fontSize": 15, "color": "black"},
   "encoding": {"text": {"field": "label"}, "x": {"datum": 408, "type": "quantitative", "axis": null}, "y": {"datum": 805, "type": "quantitative", "axis": null}}}
 ],
 "resolve": {"axis": {"x": "independent", "y": "independent"}}
},
{
 "width": 604, "height": 90,
 "layer": [
  {"mark": {"type": "line", "color": "#00ff00", "strokeWidth": 2, "opacity": 0.35, "clip": true},
   "encoding": {
    "x": {"field": "t", "type": "quantitative", "scale": {"domain": [-520, 420], "nice": false, "zero": false}, "axis": {"orient": "bottom", "values": [-400, -200, 0, 200, 400], "tickSize": -6, "labels": false, "title": null}},
    "y": {"field": "th1", "type": "quantitative", "scale": {"domain": [433, 612], "nice": false, "zero": false}, "axis": {"orient": "left", "values": [450, 500, 550, 600], "tickSize": -6, "labelPadding": 16, "title": null}}}},
  {"mark": {"type": "line", "color": "#00ff00", "strokeWidth": 1, "clip": true},
   "encoding": {
    "x": {"field": "t", "type": "quantitative", "axis": {"orient": "top", "values": [-400, -200, 0, 200, 400], "tickSize": -6, "labels": false, "title": null}},
    "y": {"field": "th1", "type": "quantitative", "axis": {"orient": "right", "values": [450, 500, 550, 600], "tickSize": -6, "labels": false, "title": null}}}},
  {"mark": {"type": "point", "opacity": 0},
   "encoding": {
    "x": {"field": "t", "type": "quantitative", "axis": {"orient": "bottom", "values": [-500, -300, -100, 100, 300], "tickSize": -4, "labels": false, "title": null}},
    "y": {"field": "th1", "type": "quantitative", "axis": {"orient": "left", "values": [440, 460, 470, 480, 490, 510, 520, 530, 540, 560, 570, 580, 590, 610], "tickSize": -3, "labels": false, "title": null}}}},
  {"mark": {"type": "point", "opacity": 0},
   "encoding": {
    "x": {"field": "t", "type": "quantitative", "axis": {"orient": "top", "values": [-500, -300, -100, 100, 300], "tickSize": -4, "labels": false, "title": null}},
    "y": {"field": "th1", "type": "quantitative", "axis": {"orient": "right", "values": [440, 460, 470, 480, 490, 510, 520, 530, 540, 560, 570, 580, 590, 610], "tickSize": -3, "labels": false, "title": null}}}},
  {"data": {"values": [{"label": "TH1"}]},
   "mark": {"type": "text", "align": "right", "baseline": "middle", "font": "Liberation Sans", "fontSize": 15, "color": "black"},
   "encoding": {"text": {"field": "label"}, "x": {"datum": 407, "type": "quantitative", "axis": null}, "y": {"datum": 591, "type": "quantitative", "axis": null}}}
 ],
 "resolve": {"axis": {"x": "independent", "y": "independent"}}
},
{
 "width": 604, "height": 90,
 "layer": [
  {"mark": {"type": "line", "color": "#0000ff", "strokeWidth": 2, "opacity": 0.35, "clip": true},
   "encoding": {
    "x": {"field": "t", "type": "quantitative", "scale": {"domain": [-520, 420], "nice": false, "zero": false}, "axis": {"orient": "bottom", "values": [-400, -200, 0, 200, 400], "tickSize": -6, "labels": false, "title": null}},
    "y": {"field": "th2", "type": "quantitative", "scale": {"domain": [768, 1014], "nice": false, "zero": false}, "axis": {"orient": "left", "values": [800, 850, 900, 950, 1000], "tickSize": -6, "labelPadding": 16, "title": "Counts/sec", "titlePadding": 13, "titleY": 55}}}},
  {"mark": {"type": "line", "color": "#0000ff", "strokeWidth": 1, "clip": true},
   "encoding": {
    "x": {"field": "t", "type": "quantitative", "axis": {"orient": "top", "values": [-400, -200, 0, 200, 400], "tickSize": -6, "labels": false, "title": null}},
    "y": {"field": "th2", "type": "quantitative", "axis": {"orient": "right", "values": [800, 850, 900, 950, 1000], "tickSize": -6, "labels": false, "title": null}}}},
  {"mark": {"type": "point", "opacity": 0},
   "encoding": {
    "x": {"field": "t", "type": "quantitative", "axis": {"orient": "bottom", "values": [-500, -300, -100, 100, 300], "tickSize": -4, "labels": false, "title": null}},
    "y": {"field": "th2", "type": "quantitative", "axis": {"orient": "left", "values": [770, 780, 790, 810, 820, 830, 840, 860, 870, 880, 890, 910, 920, 930, 940, 960, 970, 980, 990, 1010], "tickSize": -3, "labels": false, "title": null}}}},
  {"mark": {"type": "point", "opacity": 0},
   "encoding": {
    "x": {"field": "t", "type": "quantitative", "axis": {"orient": "top", "values": [-500, -300, -100, 100, 300], "tickSize": -4, "labels": false, "title": null}},
    "y": {"field": "th2", "type": "quantitative", "axis": {"orient": "right", "values": [770, 780, 790, 810, 820, 830, 840, 860, 870, 880, 890, 910, 920, 930, 940, 960, 970, 980, 990, 1010], "tickSize": -3, "labels": false, "title": null}}}},
  {"data": {"values": [{"label": "TH2"}]},
   "mark": {"type": "text", "align": "right", "baseline": "middle", "font": "Liberation Sans", "fontSize": 15, "color": "black"},
   "encoding": {"text": {"field": "label"}, "x": {"datum": 408, "type": "quantitative", "axis": null}, "y": {"datum": 985, "type": "quantitative", "axis": null}}}
 ],
 "resolve": {"axis": {"x": "independent", "y": "independent"}}
},
{
 "width": 604, "height": 90,
 "layer": [
  {"mark": {"type": "line", "color": "#00ffff", "strokeWidth": 2, "opacity": 0.35, "clip": true},
   "encoding": {
    "x": {"field": "t", "type": "quantitative", "scale": {"domain": [-520, 420], "nice": false, "zero": false}, "axis": {"orient": "bottom", "values": [-400, -200, 0, 200, 400], "tickSize": -6, "labels": false, "title": null}},
    "y": {"field": "th3", "type": "quantitative", "scale": {"domain": [1394, 1718], "nice": false, "zero": false}, "axis": {"orient": "left", "values": [1400, 1500, 1600, 1700], "tickSize": -6, "labelPadding": 16, "title": null}}}},
  {"mark": {"type": "line", "color": "#00ffff", "strokeWidth": 1, "clip": true},
   "encoding": {
    "x": {"field": "t", "type": "quantitative", "axis": {"orient": "top", "values": [-400, -200, 0, 200, 400], "tickSize": -6, "labels": false, "title": null}},
    "y": {"field": "th3", "type": "quantitative", "axis": {"orient": "right", "values": [1400, 1500, 1600, 1700], "tickSize": -6, "labels": false, "title": null}}}},
  {"mark": {"type": "point", "opacity": 0},
   "encoding": {
    "x": {"field": "t", "type": "quantitative", "axis": {"orient": "bottom", "values": [-500, -300, -100, 100, 300], "tickSize": -4, "labels": false, "title": null}},
    "y": {"field": "th3", "type": "quantitative", "axis": {"orient": "left", "values": [1420, 1440, 1460, 1480, 1520, 1540, 1560, 1580, 1620, 1640, 1660, 1680], "tickSize": -3, "labels": false, "title": null}}}},
  {"mark": {"type": "point", "opacity": 0},
   "encoding": {
    "x": {"field": "t", "type": "quantitative", "axis": {"orient": "top", "values": [-500, -300, -100, 100, 300], "tickSize": -4, "labels": false, "title": null}},
    "y": {"field": "th3", "type": "quantitative", "axis": {"orient": "right", "values": [1420, 1440, 1460, 1480, 1520, 1540, 1560, 1580, 1620, 1640, 1660, 1680], "tickSize": -3, "labels": false, "title": null}}}},
  {"data": {"values": [{"label": "TH3"}]},
   "mark": {"type": "text", "align": "right", "baseline": "middle", "font": "Liberation Sans", "fontSize": 15, "color": "black"},
   "encoding": {"text": {"field": "label"}, "x": {"datum": 408, "type": "quantitative", "axis": null}, "y": {"datum": 1680, "type": "quantitative", "axis": null}}}
 ],
 "resolve": {"axis": {"x": "independent", "y": "independent"}}
},
{
 "width": 604, "height": 90,
 "layer": [
  {"mark": {"type": "line", "color": "#ff00ff", "strokeWidth": 2, "opacity": 0.35, "clip": true},
   "encoding": {
    "x": {"field": "t", "type": "quantitative", "scale": {"domain": [-520, 420], "nice": false, "zero": false}, "axis": {"orient": "bottom", "values": [-400, -200, 0, 200, 400], "tickSize": -6, "labelPadding": 11, "title": "Time [sec] 0 = 2006/12/19 12:41:03", "titlePadding": 2, "titleX": 290}},
    "y": {"field": "th0123", "type": "quantitative", "scale": {"domain": [3326, 3848], "nice": false, "zero": false}, "axis": {"orient": "left", "values": [3400, 3600, 3800], "tickSize": -6, "labelPadding": 16, "title": null}}}},
  {"mark": {"type": "line", "color": "#ff00ff", "strokeWidth": 1, "clip": true},
   "encoding": {
    "x": {"field": "t", "type": "quantitative", "axis": {"orient": "top", "values": [-400, -200, 0, 200, 400], "tickSize": -6, "labels": false, "title": null}},
    "y": {"field": "th0123", "type": "quantitative", "axis": {"orient": "right", "values": [3400, 3600, 3800], "tickSize": -6, "labels": false, "title": null}}}},
  {"mark": {"type": "point", "opacity": 0},
   "encoding": {
    "x": {"field": "t", "type": "quantitative", "axis": {"orient": "bottom", "values": [-500, -300, -100, 100, 300], "tickSize": -4, "labels": false, "title": null}},
    "y": {"field": "th0123", "type": "quantitative", "axis": {"orient": "left", "values": [3500, 3700], "tickSize": -3, "labels": false, "title": null}}}},
  {"mark": {"type": "point", "opacity": 0},
   "encoding": {
    "x": {"field": "t", "type": "quantitative", "axis": {"orient": "top", "values": [-500, -300, -100, 100, 300], "tickSize": -4, "labels": false, "title": null}},
    "y": {"field": "th0123", "type": "quantitative", "axis": {"orient": "right", "values": [3500, 3700], "tickSize": -3, "labels": false, "title": null}}}},
  {"data": {"values": [{"label": "TH0123"}]},
   "mark": {"type": "text", "align": "right", "baseline": "middle", "font": "Liberation Sans", "fontSize": 15, "color": "black"},
   "encoding": {"text": {"field": "label"}, "x": {"datum": 414, "type": "quantitative", "axis": null}, "y": {"datum": 3787, "type": "quantitative", "axis": null}}}
 ],
 "resolve": {"axis": {"x": "independent", "y": "independent"}}
}
]
}
